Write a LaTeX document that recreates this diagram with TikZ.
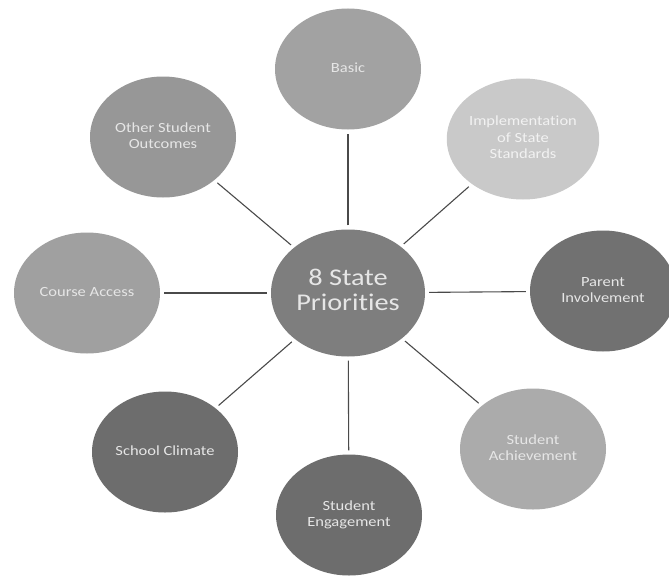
\documentclass[tikz,border=0pt]{standalone}
\usepackage{fontspec}
\setmainfont{Carlito}[Ligatures={NoCommon,NoContextual}]
\usetikzlibrary{shapes.geometric}
\definecolor{cHub}{HTML}{7E7E7E}
\definecolor{cBasic}{HTML}{A2A2A2}
\definecolor{cImpl}{HTML}{C9C9C9}
\definecolor{cParent}{HTML}{717171}
\definecolor{cAchieve}{HTML}{ABABAB}
\definecolor{cEngage}{HTML}{6D6D6D}
\definecolor{cClimate}{HTML}{6D6D6D}
\definecolor{cCourse}{HTML}{A0A0A0}
\definecolor{cOther}{HTML}{979797}
\definecolor{txt}{HTML}{E6E6E6}
\definecolor{lineC}{HTML}{4A4A4A}
\newcommand{\sx}[1]{\scalebox{1.18}[1]{\begin{tabular}{@{}c@{}}#1\end{tabular}}}
\begin{document}
\begin{tikzpicture}[x=1pt,y=-1pt,
  bubble/.style={ellipse, minimum width=146pt, minimum height=121pt, inner sep=0pt,
    text=txt, font=\fontsize{14}{16.5}\selectfont},
  hub/.style={bubble, minimum width=154pt, minimum height=127pt,
    font=\fontsize{24}{25}\selectfont},
  spoke/.style={draw=lineC, line width=1.1pt, shorten >=4pt, shorten <=4pt}]
\clip (0,0) rectangle (669,578);
\fill[white] (0,0) rectangle (669,578);
\node[hub, fill=cHub] (c) at (348,293) {\sx{8 State\\Priorit\kern0pt ies}};
\node[bubble, fill=cBasic] (basic) at (348,69) {\sx{Basic}};
\node[bubble, fill=cImpl, text=white!95!black] (impl) at (523,139) {\sx{Implementat\kern0pt ion\\of State\\Standards}};
\node[bubble, fill=cParent] (parent) at (603,291) {\sx{Parent\\Involvement}};
\node[bubble, fill=cAchieve] (achieve) at (533,449) {\sx{Student\\Achievement}};
\node[bubble, fill=cEngage] (engage) at (349,515) {\sx{Student\\Engagement}};
\node[bubble, fill=cClimate] (climate) at (165,452) {\sx{School Climate}};
\node[bubble, fill=cCourse] (course) at (87,293) {\sx{Course Access}};
\node[bubble, fill=cOther] (other) at (163,137) {\sx{Other Student\\Outcomes}};
\foreach \n in {basic,impl,parent,achieve,engage,climate,course,other}
  \draw[spoke] (c) -- (\n);
\end{tikzpicture}
\end{document}
